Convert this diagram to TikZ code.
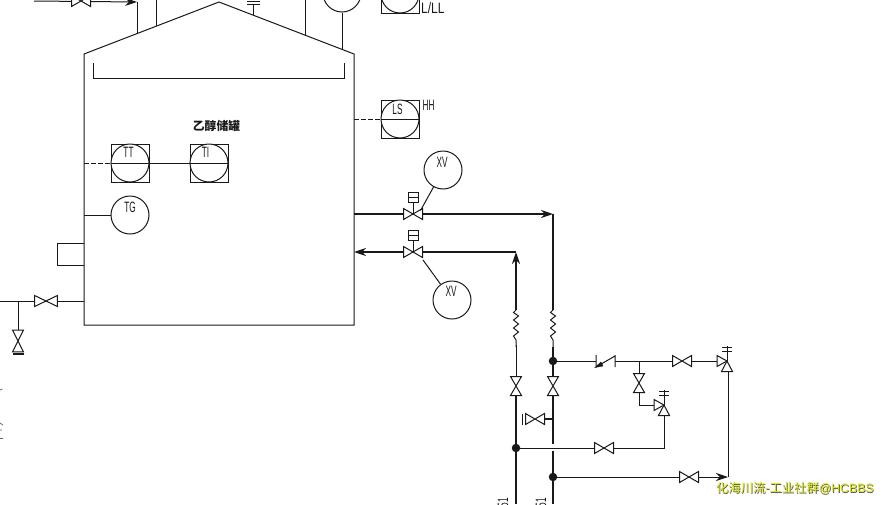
\documentclass[tikz,border=0pt]{standalone}
\usepackage{fontspec}
\usetikzlibrary{arrows.meta}
\newfontfamily\inst[FakeStretch=0.55]{Liberation Sans}
\newfontfamily\instwide[FakeStretch=0.8]{Liberation Sans}
\newfontfamily\cjkf{Noto Sans CJK SC}
\newfontfamily\wmf{Liberation Sans}
\definecolor{ln}{gray}{0.1}
\tikzset{
 thin pipe/.style={draw=ln,line width=1pt},
 thick pipe/.style={draw=ln,line width=1.9pt},
 flowtip/.style={-{Stealth[length=12pt,width=8pt]}},
 tag/.style={font=\inst\fontsize{15}{15}\selectfont,text=ln,inner sep=0pt},
 instcircle/.style={circle,draw=ln,line width=1pt,fill=white,minimum size=38pt,inner sep=0pt},
 instbox/.style={rectangle,draw=ln,line width=1pt,minimum size=38pt,inner sep=0pt},
 junction/.style={circle,fill=ln,minimum size=8.5pt,inner sep=0pt},
 pics/hv/.style={code={\draw[ln,line width=1pt,fill=white] (-9.5,-5.5)--(9.5,5.5)--(9.5,-5.5)--(-9.5,5.5)--cycle;}},
 pics/vv/.style={code={\draw[ln,line width=1pt,fill=white] (-5.5,-9.5)--(5.5,9.5)--(-5.5,9.5)--(5.5,-9.5)--cycle;}},
 pics/rv/.style={code={
   \draw[ln,line width=1pt,fill=white] (0,0)--(-10,-5.5)--(-10,5.5)--cycle;
   \draw[ln,line width=1pt,fill=white] (0,0)--(-5.5,10.5)--(5.5,10.5)--cycle;
   \draw[ln,line width=1pt] (0,0)--(0,-15) (-5,-10)--(5,-10) (-5,-14)--(5,-14);}},
 pics/actr/.style={code={
   \draw[ln,line width=1pt] (0,0)--(0,-12);
   \draw[ln,line width=1pt,fill=white] (-5,-22) rectangle (5,-12);
   \draw[ln,line width=1pt] (-5,-17)--(5,-17);}},
 signal/.style={thin pipe,dash pattern=on 5pt off 2pt},
}
\begin{document}
\begin{tikzpicture}[x=1pt,y=-1pt]
\useasboundingbox[fill=white] (0,0) rectangle (884,504);
% named points
\coordinate (tankTL) at (84,54);
\coordinate (tankTR) at (354,54);
\coordinate (tankBR) at (354,325);
\coordinate (tankBL) at (84,325);
\coordinate (apex) at (219,2);
% tank
\draw[thin pipe] (tankBL)--(tankTL)--(apex)--(tankTR)--(tankBR)--cycle;
\draw[thin pipe] (93,63)--(93,78)--(344,78)--(344,63);
\node[font=\cjkf\bfseries\fontsize{11.8}{12}\selectfont,text=ln,inner sep=0pt] (title) at (216.5,125.5) {乙醇储罐};
% top nozzles
\coordinate (n1) at (137,34);
\coordinate (n1t) at (137,2);
\coordinate (n2) at (156,26);
\coordinate (n2t) at (156,0);
\coordinate (n3) at (305,35);
\coordinate (n3t) at (305,0);
\coordinate (n5) at (342,50);
\coordinate (topL) at (34,1);
\draw[thin pipe] (n1)--(n1t);
\draw[thin pipe,flowtip] (topL)--(n1t);
\draw[thin pipe] (n2)--(n2t) (n3)--(n3t);
\pic at (81,1) {hv};
\draw[thin pipe] (253,15)--(253,4) (247,4)--(260,4) (247,1)--(260,1);
% top instruments
\node[instcircle] (topc) at (342,-7) {};
\draw[thin pipe] (topc)--(n5);
\node[instbox] (topb) at (400,-6) {};
\node[instcircle] (topc2) at (400,-6) {};
\node[font=\instwide\fontsize{15}{15}\selectfont,text=ln,inner sep=0pt,anchor=west] at (421,8) {L/LL};
% LS
\coordinate (lsn) at (354,119);
\node[instbox] (lsb) at (400,119) {};
\node[instcircle] (lsc) at (400,119) {};
\draw[thin pipe] (lsc.west)--(lsc.east);
\draw[signal] (lsn)--(lsc.west);
\node[tag] at (397.5,109) {LS};
\node[tag] at (428.5,105) {HH};
% TT TI
\coordinate (ttn) at (84,163);
\node[instbox] (ttb) at (130,163) {};
\node[instcircle] (ttc) at (130,163) {};
\node[instbox] (tib) at (209,163) {};
\node[instcircle] (tic) at (209,163) {};
\draw[signal] (ttn)--(ttc.west);
\draw[thin pipe] (ttc.west)--(tic.east);
\node[tag] at (128.5,152.5) {TT};
\node[tag] at (205.5,152.5) {TI};
% TG
\coordinate (tgn) at (84,215);
\node[instcircle] (tg) at (130,215) {};
\draw[thin pipe] (tgn)--(tg);
\node[tag] at (130,207) {TG};
% manhole
\draw[thin pipe] (84,243)--(57,243)--(57,265)--(84,265);
% bottom left line
\coordinate (dn) at (84,301);
\coordinate (lf) at (0,301);
\coordinate (br) at (18,301);
\coordinate (dv) at (18,341);
\draw[thin pipe] (lf)--(dn);
\draw[thin pipe] (br)--(dv);
\pic[xscale=1.2] at (46,301) {hv};
\pic[yscale=1.15] at (18,341) {vv};
\draw[ln,line width=1.5pt] (13,354)--(24,354);
% process lines
\coordinate (o1) at (354,214);
\coordinate (c1) at (553,214);
\coordinate (o2) at (354,252);
\coordinate (c2) at (516,252);
\coordinate (xv1v) at (413,214);
\coordinate (xv2v) at (413,252);
\coordinate (xv1t) at (420.5,210.5);
\coordinate (xv2t) at (423,260);
\draw[thick pipe,flowtip] (o1)--(c1);
\draw[thick pipe] (c1)--(553,310);
\draw[thick pipe,flowtip] (c2)--(o2);
\draw[thick pipe,flowtip] (516,310)--(c2);
\pic at (xv1v) {hv};
\pic at (xv2v) {hv};
\pic at (xv1v) {actr};
\pic at (xv2v) {actr};
\node[instcircle] (xv1) at (443,170) {};
\node[instcircle] (xv2) at (452,300) {};
\draw[thin pipe] (xv1)--(xv1t);
\draw[thin pipe] (xv2)--(xv2t);
\node[tag] at (442,162) {XV};
\node[tag] at (451,291) {XV};
% bellows
\foreach \x in {516,553}{
 \draw[thin pipe] (\x,310)--(\x-2.5,312.5)--(\x+2.5,316)--(\x-2.5,320)--(\x+2.5,324)--(\x-2.5,328)--(\x+2.5,332)--(\x-2.5,336)--(\x+0,340)--(\x,347);}
% lower pipes
\coordinate (j1) at (553,361);
\coordinate (j2) at (516,448);
\coordinate (j3) at (553,477);
\draw[thin pipe] (516,345)--(516,378);
\draw[thick pipe] (553,347)--(553,378);
\draw[thick pipe] (516,395)--(516,504);
\draw[thick pipe] (553,395)--(553,444);
\draw[thick pipe] (553,451)--(553,504);
\pic at (516,386) {vv};
\pic at (553,386) {vv};
% drain
\draw[ln,line width=1.5pt] (553,419)--(536,419);
\pic at (535,419) {hv};
\draw[thin pipe] (522,413.5)--(522,425) (525,413.5)--(525,425);
% j1 line
\coordinate (ck) at (605,361);
\coordinate (tee) at (639,361);
\coordinate (rv1) at (727,361);
\draw[thin pipe] (j1)--(596,361);
\draw[thin pipe] (596,355)--(596,367) (596,367)--(615,356) (615,355)--(615,367);
\draw[thin pipe] (615,361)--(rv1);
\draw[ln,fill=ln] (595,367.5)--(601,362)--(603,366)--cycle;
\pic at (682,361) {hv};
\pic at (rv1) {rv};
\draw[thin pipe] (tee)--(639,405)--(662,405);
\pic at (639,383) {vv};
\coordinate (rv2) at (664,405);
\pic at (rv2) {rv};
\draw[thin pipe] (j2)--(664,448)--(664,416);
\pic at (604,448) {hv};
\draw[thin pipe] (j3)--(713,477);
\draw[thin pipe,flowtip] (680,477)--(728,477);
\draw[thin pipe] (728,477)--(728,372);
\pic at (689,477) {hv};
\node[junction] (J1) at (j1) {};
\node[junction] (J2) at (j2) {};
\node[junction] (J3) at (j3) {};
% cropped labels
\node[tag,rotate=90,anchor=west] at (503,507.5) {51};
\node[tag,rotate=90,anchor=west] at (541,507.5) {51};
% cropped marks on the left edge
\draw[ln!70,line width=0.7pt] (0,390)--(2.5,389) (0,423)--(3,425) (0,430)--(2,430) (0,438.5)--(3,438.5);
% watermark
\node[font=\wmf\fontsize{12.3}{12.5}\selectfont,text=black!70,inner sep=0pt,anchor=west] at (716.7,489.2) {\cjkf 化海川流-工业社群\wmf @HCBBS};
\node[font=\wmf\fontsize{12.3}{12.5}\selectfont,text=yellow!85!green,inner sep=0pt,anchor=west] (wm) at (716,488.5) {\cjkf 化海川流-工业社群\wmf @HCBBS};
\end{tikzpicture}
\end{document}
